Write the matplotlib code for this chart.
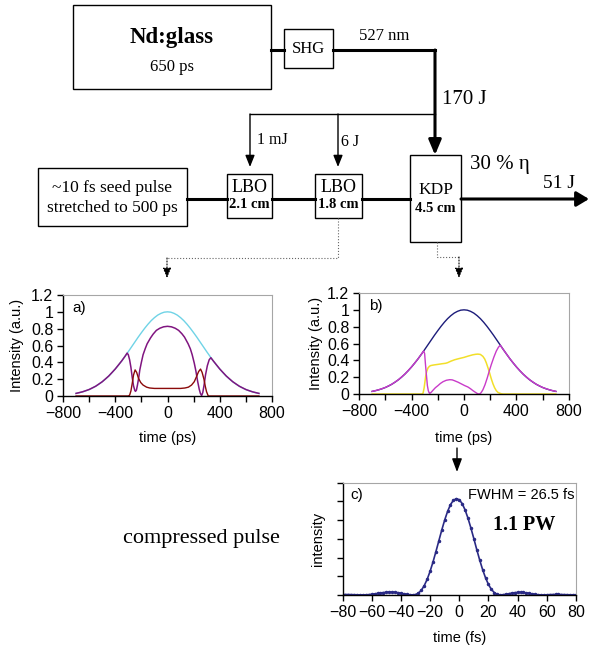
import matplotlib
matplotlib.use("Agg")
import matplotlib.pyplot as plt
import numpy as np

plt.rcParams["font.family"] = "Liberation Sans"
plt.rcParams["axes.linewidth"] = 1.0

SERIF = "Liberation Serif"

# pump envelope (ps) shared by panels a) and b)
env_t = [-700, -675, -650, -625, -600, -575, -550, -525, -500, -475, -450, -425, -400, -375,
         -350, -325, -300, -275, -250, -225, -200, -175, -150, -125, -100, -75, -50, -25, 0,
         25, 50, 75, 100, 125, 150, 175, 200, 225, 250, 275, 300, 325, 350, 375, 400, 425,
         450, 475, 500, 525, 550, 575, 600, 625, 650, 675, 700]
env_i = [0.031, 0.039, 0.050, 0.062, 0.077, 0.095, 0.116, 0.141, 0.169, 0.201, 0.237, 0.277,
         0.321, 0.368, 0.418, 0.472, 0.527, 0.584, 0.641, 0.698, 0.752, 0.804, 0.852, 0.895,
         0.931, 0.961, 0.982, 0.996, 1.0, 0.996, 0.982, 0.961, 0.931, 0.895, 0.852, 0.804,
         0.752, 0.698, 0.641, 0.584, 0.527, 0.472, 0.418, 0.368, 0.321, 0.277, 0.237, 0.201,
         0.169, 0.141, 0.116, 0.095, 0.077, 0.062, 0.050, 0.039, 0.031]

# panel a) remaining pump (purple)
pa_t = [-700, -650, -600, -550, -500, -450, -400, -350, -325, -309, -300, -290, -280, -270,
        -260, -250, -245, -238, -230, -220, -212, -200, -187, -170, -156, -130, -110, -85,
        -59, -30, 0, 30, 59, 85, 110, 130, 158, 175, 189, 205, 217, 230, 243, 252, 261, 270,
        280, 291, 305, 319, 332, 350, 400, 450, 500, 550, 600, 650, 700]
pa_i = [0.031, 0.050, 0.077, 0.116, 0.169, 0.237, 0.321, 0.418, 0.472, 0.51, 0.49, 0.43,
        0.34, 0.22, 0.12, 0.065, 0.055, 0.07, 0.13, 0.22, 0.31, 0.40, 0.49, 0.565, 0.62,
        0.69, 0.735, 0.78, 0.805, 0.822, 0.828, 0.822, 0.805, 0.78, 0.74, 0.70, 0.62, 0.56,
        0.49, 0.39, 0.30, 0.18, 0.08, 0.03, 0.005, 0.04, 0.13, 0.25, 0.36, 0.43, 0.455,
        0.418, 0.321, 0.237, 0.169, 0.116, 0.077, 0.050, 0.031]

# panel a) signal (dark red)
ra_t = [-700, -300, -290, -280, -270, -260, -248, -236, -222, -205, -187, -160, -136, -100,
        0, 100, 133, 160, 184, 205, 222, 238, 253, 265, 279, 290, 299, 312, 700]
ra_i = [0, 0, 0.01, 0.06, 0.15, 0.25, 0.31, 0.28, 0.21, 0.16, 0.13, 0.105, 0.095, 0.09,
        0.09, 0.09, 0.095, 0.105, 0.13, 0.17, 0.23, 0.29, 0.32, 0.28, 0.20, 0.11, 0.05, 0.0, 0]

# panel b) remaining pump (magenta)
mb_t = [-700, -650, -600, -550, -500, -450, -400, -350, -325, -307, -300, -294, -286, -279,
        -272, -266, -261, -250, -236, -218, -198, -180, -160, -135, -109, -90, -71, -45, -20,
        5, 30, 50, 68, 85, 101, 110, 119, 130, 144, 160, 177, 192, 208, 228, 246, 262, 276,
        300, 350, 400, 450, 500, 550, 600, 650, 700]
mb_i = [0.031, 0.050, 0.077, 0.116, 0.169, 0.237, 0.321, 0.418, 0.472, 0.512, 0.48, 0.36,
        0.22, 0.10, 0.04, 0.015, 0.008, 0.02, 0.045, 0.075, 0.10, 0.125, 0.146, 0.163, 0.17,
        0.168, 0.157, 0.14, 0.12, 0.10, 0.083, 0.062, 0.04, 0.022, 0.006, 0.001, 0.0, 0.015,
        0.05, 0.11, 0.19, 0.27, 0.35, 0.44, 0.51, 0.555, 0.58, 0.527, 0.418, 0.321, 0.237,
        0.169, 0.116, 0.077, 0.050, 0.031]

# panel b) signal (yellow)
yb_t = [-700, -320, -312, -304, -298, -292, -284, -274, -263, -253, -230, -198, -165, -140,
        -125, -100, -71, -40, 0, 35, 68, 90, 106, 125, 144, 158, 170, 183, 195, 208, 221,
        233, 246, 258, 271, 285, 297, 700]
yb_i = [0, 0, 0.01, 0.07, 0.14, 0.21, 0.27, 0.31, 0.33, 0.338, 0.345, 0.352, 0.36, 0.365,
        0.372, 0.39, 0.407, 0.42, 0.435, 0.452, 0.466, 0.472, 0.474, 0.47, 0.447, 0.415,
        0.37, 0.31, 0.25, 0.18, 0.12, 0.075, 0.04, 0.02, 0.01, 0.003, 0.0, 0]

# panel c) compressed pulse, fs
c_t = list(range(-80, 81, 2))
c_i = [0.004, 0.005, 0.005, 0.004, 0.003, 0.002, 0.001, 0.001, 0.002, 0.004, 0.008, 0.012,
       0.017, 0.022, 0.026, 0.029, 0.031, 0.031, 0.029, 0.025, 0.019, 0.013, 0.007, 0.003,
       0.001, 0.004, 0.02, 0.05, 0.10, 0.167, 0.252, 0.352, 0.463, 0.578, 0.693, 0.80,
       0.893, 0.966, 1.012, 1.03, 1.018, 0.977, 0.909, 0.82, 0.715, 0.602, 0.485, 0.374,
       0.272, 0.184, 0.113, 0.06, 0.026, 0.007, 0.001, 0.003, 0.008, 0.014, 0.020, 0.025,
       0.028, 0.029, 0.027, 0.023, 0.018, 0.012, 0.007, 0.003, 0.001, 0.001, 0.002, 0.004,
       0.005, 0.006, 0.006, 0.005, 0.004, 0.003, 0.002, 0.002, 0.003]

ps_ticks = [-800, -600, -400, -200, 0, 200, 400, 600, 800]
ps_labels = ["\u2212800", "", "\u2212400", "", "0", "", "400", "", "800"]
int_ticks = [0, 0.2, 0.4, 0.6, 0.8, 1.0, 1.2]
int_labels = ["0", "0.2", "0.4", "0.6", "0.8", "1", "1.2"]
fs_ticks = [-80, -60, -40, -20, 0, 20, 40, 60, 80]
fs_labels = ["\u221280", "\u221260", "\u221240", "\u221220", "0", "20", "40", "60", "80"]

fig = plt.figure(figsize=(5.89, 6.47), dpi=100)

# ---- block diagram, drawn in pixel coordinates ----
ov = fig.add_axes([0, 0, 1, 1])
ov.set_xlim(0, 589)
ov.set_ylim(647, 0)
ov.axis("off")


def box(x0, y0, x1, y1):
    ov.add_patch(plt.Rectangle((x0, y0), x1 - x0, y1 - y0, fill=False, lw=1.0, ec="black"))


def arrow(x0, y0, x1, y1, lw, hl, hw, ls="-", color="black"):
    ov.annotate("", xy=(x1, y1), xytext=(x0, y0),
                arrowprops=dict(arrowstyle=f"-|>,head_length={hl},head_width={hw}",
                                lw=lw, color=color, ls=ls, shrinkA=0, shrinkB=0,
                                mutation_scale=10))


box(73, 5, 271, 89)
ov.text(172, 37, "Nd:glass", family=SERIF, fontweight="bold", fontsize=16.5, ha="center", va="center")
ov.text(172, 67, "650 ps", family=SERIF, fontsize=12, ha="center", va="center")
ov.plot([271, 284], [50, 50], color="black", lw=2.2)
box(284, 29, 333, 68)
ov.text(308.5, 49, "SHG", family=SERIF, fontsize=12, ha="center", va="center")
ov.plot([333, 435], [50, 50], color="black", lw=2.2, solid_capstyle="projecting")
arrow(435, 50, 435, 155, 2.2, 0.9, 0.38)
ov.text(384, 36, "527 nm", family=SERIF, fontsize=12, ha="center", va="center")
ov.text(442, 100, "170 J", family=SERIF, fontsize=15, ha="left", va="center")

ov.plot([250, 435], [114, 114], color="black", lw=1.0)
arrow(250, 114, 250, 167, 1.0, 0.7, 0.28)
arrow(338, 114, 338, 167, 1.0, 0.7, 0.28)
ov.text(272, 140, "1 mJ", family=SERIF, fontsize=11.5, ha="center", va="center")
ov.text(350, 142, "6 J", family=SERIF, fontsize=11.5, ha="center", va="center")

box(38, 168, 187, 226)
ov.text(112, 188, "~10 fs seed pulse", family=SERIF, fontsize=12.5, ha="center", va="center")
ov.text(112, 208, "stretched to 500 ps", family=SERIF, fontsize=12.5, ha="center", va="center")

for x0, x1 in [(187, 227), (272, 315), (362, 410)]:
    ov.plot([x0, x1], [199, 199], color="black", lw=2.2)
arrow(461, 199, 589, 199, 2.2, 0.75, 0.45)

box(227, 174, 272, 218)
ov.text(249.5, 188, "LBO", family=SERIF, fontsize=13, ha="center", va="center")
ov.text(249.5, 205, "2.1 cm", family=SERIF, fontweight="bold", fontsize=10.5, ha="center", va="center")
box(315, 174, 362, 218)
ov.text(338.5, 188, "LBO", family=SERIF, fontsize=13, ha="center", va="center")
ov.text(338.5, 205, "1.8 cm", family=SERIF, fontweight="bold", fontsize=10.5, ha="center", va="center")
box(410, 155, 461, 242)
ov.text(435.5, 190, "KDP", family=SERIF, fontsize=12.5, ha="center", va="center")
ov.text(435.5, 208, "4.5 cm", family=SERIF, fontweight="bold", fontsize=10.5, ha="center", va="center")
ov.text(470, 165, "30 % \u03b7", family=SERIF, fontsize=15, ha="left", va="center")
ov.text(543, 183, "51 J", family=SERIF, fontsize=14, ha="left", va="center")

# dotted leaders to the plots
ov.plot([338, 338, 167], [218, 258, 258], color="#666666", lw=0.8, ls=":")
arrow(167, 258, 167, 278, 0.8, 0.6, 0.25, ls=":", color="black")
ov.plot([437, 437, 459], [242, 257, 257], color="#666666", lw=0.8, ls=":")
arrow(459, 257, 459, 278, 0.8, 0.6, 0.25, ls=":", color="black")

arrow(457, 448, 457, 472, 1.0, 0.8, 0.3)
ov.text(201, 538, "compressed pulse", family=SERIF, fontsize=16, ha="center", va="center")


def style_axes(ax):
    for side in ("top", "right"):
        ax.spines[side].set_color("#A6A6A6")
        ax.spines[side].set_linewidth(0.8)
    ax.tick_params(direction="out", length=4, width=1, labelsize=11.5, pad=3,
                   top=False, right=False)


# ---- panel a ----
axa = fig.add_axes([63 / 589, (647 - 396) / 647, 209 / 589, 101 / 647])
axa.plot(env_t, env_i, color="#6FD3E6", lw=1.0)
axa.plot(pa_t, pa_i, color="#801580", lw=1.1)
axa.plot(ra_t, ra_i, color="#8B0A0A", lw=1.0)
axa.set_xlim(-800, 800)
axa.set_ylim(0, 1.2)
axa.set_xticks(ps_ticks, ps_labels)
axa.set_yticks(int_ticks, int_labels)
style_axes(axa)
axa.set_xlabel("time (ps)", fontsize=10.5)
axa.set_ylabel("Intensity (a.u.)", fontsize=10.5)
axa.xaxis.label.set_va("center")
axa.yaxis.label.set_va("center")
axa.xaxis.set_label_coords(0.5, -0.42)
axa.yaxis.set_label_coords(-0.218, 0.5)
axa.text(0.043, 0.87, "a)", transform=axa.transAxes, fontsize=11, va="center")

# ---- panel b ----
axb = fig.add_axes([359 / 589, (647 - 394) / 647, 210 / 589, 101 / 647])
axb.plot(env_t, env_i, color="#1C1C7A", lw=1.0)
axb.plot(yb_t, yb_i, color="#F2DF2A", lw=1.1)
axb.plot(mb_t, mb_i, color="#C93BC9", lw=1.0)
axb.set_xlim(-800, 800)
axb.set_ylim(0, 1.2)
axb.set_xticks(ps_ticks, ps_labels)
axb.set_yticks(int_ticks, int_labels)
style_axes(axb)
axb.set_xlabel("time (ps)", fontsize=10.5)
axb.set_ylabel("Intensity (a.u.)", fontsize=10.5)
axb.xaxis.label.set_va("center")
axb.yaxis.label.set_va("center")
axb.xaxis.set_label_coords(0.5, -0.436)
axb.yaxis.set_label_coords(-0.205, 0.5)
axb.text(0.048, 0.87, "b)", transform=axb.transAxes, fontsize=11, va="center")

# ---- panel c ----
axc = fig.add_axes([342.5 / 589, (647 - 595) / 647, 233.5 / 589, 112.3 / 647])
axc.plot(c_t, c_i, color="#2A2A85", lw=1.2, marker="o", ms=1.5, mfc="#2A2A85", mec="#2A2A85")
axc.set_xlim(-80, 80)
axc.set_ylim(0, 1.2)
axc.set_xticks(fs_ticks, fs_labels)
axc.set_yticks(int_ticks, [""] * len(int_ticks))
style_axes(axc)
axc.set_xlabel("time (fs)", fontsize=10.5)
axc.set_ylabel("intensity", fontsize=10.5)
axc.xaxis.label.set_va("center")
axc.yaxis.label.set_va("center")
axc.xaxis.set_label_coords(0.5, -0.383)
axc.yaxis.set_label_coords(-0.105, 0.5)
axc.text(0.032, 0.89, "c)", transform=axc.transAxes, fontsize=11, va="center")
axc.text(0.995, 0.89, "FWHM = 26.5 fs", transform=axc.transAxes, fontsize=10.5,
         ha="right", va="center")
axc.text(0.78, 0.62, "1.1 PW", transform=axc.transAxes, family=SERIF, fontweight="bold",
         fontsize=14.5, ha="center", va="center")

fig.savefig("out.png", dpi=100)
